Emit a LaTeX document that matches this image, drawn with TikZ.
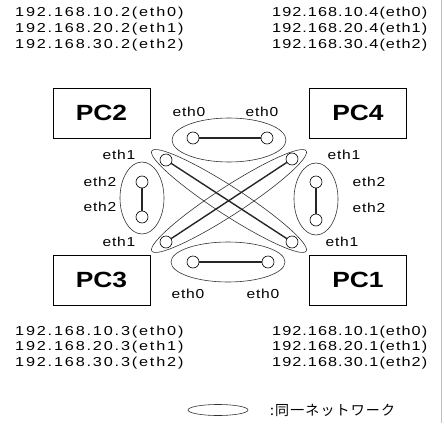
\documentclass[tikz,border=0pt]{standalone}
\usepackage{fontspec}
\setmainfont{Liberation Sans}
\newfontfamily\labelfont{Liberation Sans}[FakeStretch=1.25,LetterSpace=14]
\newfontfamily\narrowfont{Liberation Sans}[FakeStretch=1.25,LetterSpace=8]
\newfontfamily\ethfont{Liberation Sans}[FakeStretch=1.2,LetterSpace=6]
\newfontfamily\boxfont{Liberation Sans}[FakeStretch=1.2]
\newfontfamily\jpfont{Noto Sans CJK JP}[LetterSpace=8]
\usepackage{tikz}
\usepackage{xcolor}

\begin{document}
\begin{tikzpicture}[x=1pt,y=-1pt,
    port/.style={draw,circle,inner sep=0pt,minimum size=12pt,line width=0.6pt,fill=white},
    link/.style={line width=1.4pt,black!85},
    net/.style={line width=0.6pt,black!80},
    pcbox/.style={draw,line width=1pt,minimum width=97pt,minimum height=50pt,
      font=\boxfont\bfseries\fontsize{22}{24}\selectfont},
    eth/.style={font=\ethfont\fontsize{13}{15}\selectfont,inner sep=1pt},
    addr/.style={font=\labelfont\fontsize{13}{16}\selectfont,inner sep=0pt,anchor=west},
    addrr/.style={addr,font=\narrowfont\fontsize{13}{16}\selectfont}]
  \useasboundingbox (0,0) rectangle (444,423);
  \draw[red!35,line width=1pt] (441,0) -- (441,423);

  % address lists
  \node[addr] (ip2a) at (15,13) {192.168.10.2(eth0)};
  \node[addr] (ip2b) at (15,29) {192.168.20.2(eth1)};
  \node[addr] (ip2c) at (15,45) {192.168.30.2(eth2)};
  \node[addrr] (ip4a) at (272,13) {192.168.10.4(eth0)};
  \node[addrr] (ip4b) at (272,29) {192.168.20.4(eth1)};
  \node[addrr] (ip4c) at (272,45) {192.168.30.4(eth2)};
  \node[addr] (ip3a) at (15,332) {192.168.10.3(eth0)};
  \node[addr] (ip3b) at (15,347) {192.168.20.3(eth1)};
  \node[addr] (ip3c) at (15,363) {192.168.30.3(eth2)};
  \node[addrr] (ip1a) at (272,332) {192.168.10.1(eth0)};
  \node[addrr] (ip1b) at (272,347) {192.168.20.1(eth1)};
  \node[addrr] (ip1c) at (272,363) {192.168.30.1(eth2)};

  % hosts
  \node[pcbox] (pc2) at (101.5,113) {PC2};
  \node[pcbox] (pc4) at (358,113) {PC4};
  \node[pcbox] (pc3) at (101.5,280) {PC3};
  \node[pcbox] (pc1) at (358,280) {PC1};

  % networks
  \draw[net] (229,140) ellipse [x radius=57,y radius=22];
  \draw[net] (228,262) ellipse [x radius=57,y radius=20];
  \draw[net] (142,198) ellipse [x radius=22,y radius=36];
  \draw[net] (316,199) ellipse [x radius=22,y radius=36];
  \draw[net,shift={(229,201)},rotate=-33] (0,0) ellipse [x radius=92,y radius=14];
  \draw[net,shift={(229,201)},rotate=33] (0,0) ellipse [x radius=92,y radius=14];

  % interfaces
  \node[port] (pc2e0) at (193,138) {};
  \node[port] (pc4e0) at (267,138) {};
  \node[port] (pc3e0) at (193,262) {};
  \node[port] (pc1e0) at (268,262) {};
  \node[port] (pc2e1) at (166,160) {};
  \node[port] (pc4e1) at (292,159) {};
  \node[port] (pc3e1) at (166,242) {};
  \node[port] (pc1e1) at (292,242) {};
  \node[port] (pc2e2) at (142,182) {};
  \node[port] (pc3e2) at (142,217) {};
  \node[port] (pc4e2) at (316,182) {};
  \node[port] (pc1e2) at (316,220) {};

  \draw[link] (pc2e0) -- (pc4e0);
  \draw[link] (pc3e0) -- (pc1e0);
  \draw[link] (pc2e2) -- (pc3e2);
  \draw[link] (pc4e2) -- (pc1e2);
  \draw[link] (pc2e1) -- (pc1e1);
  \draw[link] (pc4e1) -- (pc3e1);

  % interface names
  \node[eth] (t0a) at (189,112) {eth0};
  \node[eth] (t0b) at (262,112) {eth0};
  \node[eth] (b0a) at (188,294) {eth0};
  \node[eth] (b0b) at (263,294) {eth0};
  \node[eth] (l1a) at (119,155) {eth1};
  \node[eth] (l2a) at (100,182) {eth2};
  \node[eth] (l2b) at (100,207) {eth2};
  \node[eth] (l1b) at (119,242) {eth1};
  \node[eth] (r1a) at (344,155) {eth1};
  \node[eth] (r2a) at (369,182) {eth2};
  \node[eth] (r2b) at (369,208) {eth2};
  \node[eth] (r1b) at (342,242) {eth1};

  % legend
  \draw[net] (218,410) ellipse [x radius=30,y radius=5.5];
  \node[anchor=west,font=\jpfont\fontsize{14}{16}\selectfont,inner sep=0pt] (key) at (270,410) {:同一ネットワーク};
\end{tikzpicture}
\end{document}
